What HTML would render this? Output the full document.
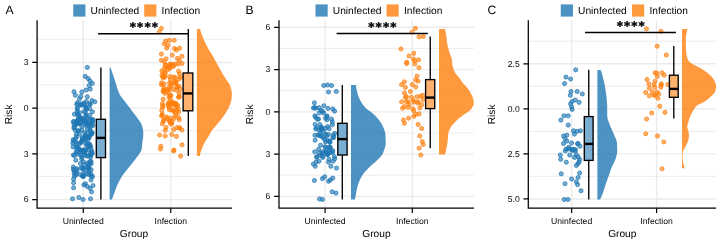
<!DOCTYPE html>
<html lang="en"><head><meta charset="utf-8"><title>Risk by Group</title>
<style>html,body{margin:0;padding:0;background:#fff}body{width:720px;height:243px;overflow:hidden}svg{display:block}</style>
</head><body>
<svg width="720" height="243" viewBox="0 0 720 243" text-rendering="geometricPrecision" font-family="'Liberation Sans', Arial, Helvetica, sans-serif">
<rect width="720" height="243" fill="#ffffff"/>
<g id="panelA">
<path d="M37.10 176.43H231.90M37.10 130.71H231.90M37.10 84.99H231.90M37.10 39.27H231.90" stroke="#ebebeb" stroke-width="0.9" fill="none"/>
<path d="M37.10 199.59H231.90M37.10 153.87H231.90M37.10 108.15H231.90M37.10 62.43H231.90M83.25 20.3V208.2M170.75 20.3V208.2" stroke="#ebebeb" stroke-width="1.4" fill="none"/>
<path d="M109.60 67.60L110.5 67.6L110.9 68.6L111.2 69.6L111.5 70.6L111.9 71.6L112.2 72.6L112.6 73.6L112.9 74.6L113.3 75.6L113.6 76.6L113.9 77.6L114.3 78.6L114.6 79.6L114.9 80.6L115.2 81.6L115.6 82.6L115.9 83.6L116.2 84.6L116.5 85.6L116.7 86.6L117.0 87.6L117.4 88.6L117.7 89.6L118.1 90.6L118.4 91.6L118.8 92.6L119.3 93.6L119.8 94.6L120.3 95.6L121.0 96.6L121.7 97.6L122.5 98.6L123.3 99.6L124.1 100.6L124.9 101.6L125.7 102.6L126.4 103.6L127.2 104.6L127.9 105.6L128.7 106.6L129.4 107.6L130.2 108.6L130.9 109.6L131.7 110.6L132.5 111.6L133.2 112.6L134.0 113.6L134.8 114.6L135.5 115.6L136.3 116.6L137.0 117.6L137.7 118.6L138.4 119.6L139.2 120.6L139.9 121.6L140.5 122.6L141.1 123.6L141.5 124.6L141.9 125.6L142.2 126.6L142.5 127.6L142.8 128.6L142.9 129.6L143.1 130.6L143.2 131.6L143.3 132.6L143.3 133.6L143.3 134.6L143.2 135.6L143.2 136.6L143.1 137.6L142.9 138.6L142.8 139.6L142.7 140.6L142.5 141.6L142.4 142.6L142.3 143.6L142.2 144.6L142.1 145.6L142.0 146.6L141.9 147.6L141.8 148.6L141.6 149.6L141.2 150.6L140.8 151.6L140.2 152.6L139.5 153.6L138.8 154.6L138.1 155.6L137.3 156.6L136.6 157.6L135.9 158.6L135.1 159.6L134.4 160.6L133.6 161.6L132.8 162.6L132.0 163.6L131.2 164.6L130.3 165.6L129.5 166.6L128.8 167.6L128.0 168.6L127.2 169.6L126.4 170.6L125.6 171.6L124.8 172.6L124.0 173.6L123.3 174.6L122.6 175.6L121.9 176.6L121.3 177.6L120.7 178.6L120.2 179.6L119.6 180.6L119.1 181.6L118.6 182.6L118.1 183.6L117.6 184.6L117.2 185.6L116.8 186.6L116.3 187.6L116.0 188.6L115.6 189.6L115.2 190.6L114.9 191.6L114.5 192.6L114.1 193.6L113.8 194.6L113.4 195.6L113.0 196.6L112.7 197.6L112.3 198.6L112.0 199.5L109.60 199.50Z" fill="#1F77B4" fill-opacity="0.8"/>
<path d="M196.90 29.00L200.0 29.0L200.3 30.0L200.5 31.0L200.9 32.0L201.2 33.0L201.5 34.0L201.9 35.0L202.3 36.0L202.7 37.0L203.1 38.0L203.5 39.0L204.0 40.0L204.4 41.0L204.9 42.0L205.4 43.0L205.9 44.0L206.4 45.0L206.9 46.0L207.4 47.0L207.9 48.0L208.5 49.0L209.0 50.0L209.6 51.0L210.2 52.0L210.9 53.0L211.6 54.0L212.2 55.0L212.8 56.0L213.4 57.0L213.9 58.0L214.4 59.0L214.9 60.0L215.5 61.0L216.0 62.0L216.6 63.0L217.1 64.0L217.7 65.0L218.2 66.0L218.8 67.0L219.3 68.0L219.9 69.0L220.5 70.0L221.1 71.0L221.6 72.0L222.2 73.0L222.8 74.0L223.4 75.0L224.0 76.0L224.6 77.0L225.2 78.0L225.9 79.0L226.5 80.0L227.2 81.0L228.0 82.0L228.7 83.0L229.3 84.0L229.7 85.0L230.2 86.0L230.6 87.0L230.9 88.0L231.2 89.0L231.4 90.0L231.6 91.0L231.7 92.0L231.8 93.0L231.9 94.0L231.9 95.0L231.8 96.0L231.7 97.0L231.6 98.0L231.5 99.0L231.3 100.0L231.2 101.0L230.9 102.0L230.6 103.0L230.2 104.0L229.8 105.0L229.4 106.0L229.0 107.0L228.5 108.0L228.0 109.0L227.5 110.0L226.9 111.0L226.3 112.0L225.7 113.0L225.1 114.0L224.4 115.0L223.7 116.0L222.9 117.0L222.2 118.0L221.4 119.0L220.6 120.0L219.9 121.0L219.0 122.0L218.2 123.0L217.4 124.0L216.6 125.0L215.7 126.0L214.9 127.0L214.0 128.0L213.1 129.0L212.3 130.0L211.6 131.0L211.0 132.0L210.4 133.0L209.9 134.0L209.4 135.0L208.8 136.0L208.2 137.0L207.5 138.0L206.8 139.0L206.1 140.0L205.6 141.0L205.0 142.0L204.5 143.0L204.0 144.0L203.5 145.0L203.0 146.0L202.6 147.0L202.2 148.0L201.8 149.0L201.4 150.0L201.0 151.0L200.7 152.0L200.4 153.0L200.2 154.0L200.0 155.0L199.8 155.9L196.90 155.90Z" fill="#FF7F0E" fill-opacity="0.8"/>
<g fill="#1F77B4" fill-opacity="0.62" stroke="#1F77B4" stroke-opacity="0.88" stroke-width="0.85">
<circle cx="87.3" cy="67.4" r="2.05"/><circle cx="85.2" cy="76.4" r="2.05"/><circle cx="88.2" cy="78.6" r="2.05"/><circle cx="90.0" cy="81.0" r="2.05"/><circle cx="92.3" cy="83.4" r="2.05"/><circle cx="89.1" cy="85.6" r="2.05"/><circle cx="90.2" cy="89.1" r="2.05"/><circle cx="86.1" cy="90.0" r="2.05"/><circle cx="81.8" cy="91.9" r="2.05"/><circle cx="74.0" cy="91.7" r="2.05"/><circle cx="75.3" cy="95.2" r="2.05"/><circle cx="80.8" cy="96.4" r="2.05"/><circle cx="87.3" cy="96.8" r="2.05"/><circle cx="79.3" cy="99.0" r="2.05"/><circle cx="92.0" cy="100.5" r="2.05"/><circle cx="94.8" cy="101.8" r="2.05"/><circle cx="77.4" cy="102.8" r="2.05"/><circle cx="86.4" cy="101.5" r="2.05"/><circle cx="81.7" cy="105.2" r="2.05"/><circle cx="90.1" cy="104.6" r="2.05"/><circle cx="73.6" cy="179.0" r="2.05"/><circle cx="73.6" cy="182.8" r="2.05"/><circle cx="73.6" cy="187.8" r="2.05"/><circle cx="85.5" cy="183.7" r="2.05"/><circle cx="91.0" cy="180.0" r="2.05"/><circle cx="93.0" cy="185.6" r="2.05"/><circle cx="87.3" cy="186.5" r="2.05"/><circle cx="90.0" cy="188.4" r="2.05"/><circle cx="91.6" cy="191.8" r="2.05"/><circle cx="76.0" cy="175.0" r="2.05"/><circle cx="83.8" cy="185.0" r="2.05"/><circle cx="72.5" cy="198.8" r="2.05"/><circle cx="78.8" cy="197.5" r="2.05"/><circle cx="83.0" cy="199.5" r="2.05"/><circle cx="90.5" cy="198.8" r="2.05"/><circle cx="85.7" cy="107.1" r="2.05"/><circle cx="84.2" cy="111.3" r="2.05"/><circle cx="86.2" cy="107.6" r="2.05"/><circle cx="84.9" cy="104.7" r="2.05"/><circle cx="89.6" cy="108.7" r="2.05"/><circle cx="81.5" cy="103.8" r="2.05"/><circle cx="89.9" cy="103.8" r="2.05"/><circle cx="77.2" cy="109.2" r="2.05"/><circle cx="92.4" cy="111.8" r="2.05"/><circle cx="86.7" cy="108.9" r="2.05"/><circle cx="76.7" cy="104.4" r="2.05"/><circle cx="77.5" cy="107.8" r="2.05"/><circle cx="80.5" cy="104.7" r="2.05"/><circle cx="84.2" cy="103.3" r="2.05"/><circle cx="89.8" cy="115.3" r="2.05"/><circle cx="85.8" cy="115.9" r="2.05"/><circle cx="86.2" cy="115.7" r="2.05"/><circle cx="78.6" cy="115.4" r="2.05"/><circle cx="92.9" cy="119.5" r="2.05"/><circle cx="87.2" cy="118.3" r="2.05"/><circle cx="77.6" cy="114.4" r="2.05"/><circle cx="74.4" cy="114.2" r="2.05"/><circle cx="81.0" cy="117.7" r="2.05"/><circle cx="80.7" cy="118.3" r="2.05"/><circle cx="89.9" cy="119.2" r="2.05"/><circle cx="77.2" cy="112.0" r="2.05"/><circle cx="82.4" cy="118.8" r="2.05"/><circle cx="80.9" cy="119.4" r="2.05"/><circle cx="85.6" cy="112.5" r="2.05"/><circle cx="78.4" cy="117.8" r="2.05"/><circle cx="79.7" cy="112.7" r="2.05"/><circle cx="88.1" cy="137.6" r="2.05"/><circle cx="77.6" cy="121.7" r="2.05"/><circle cx="73.8" cy="121.4" r="2.05"/><circle cx="76.2" cy="134.5" r="2.05"/><circle cx="81.7" cy="130.0" r="2.05"/><circle cx="87.5" cy="123.1" r="2.05"/><circle cx="85.7" cy="122.0" r="2.05"/><circle cx="81.2" cy="121.7" r="2.05"/><circle cx="78.1" cy="123.5" r="2.05"/><circle cx="89.0" cy="137.8" r="2.05"/><circle cx="90.7" cy="125.2" r="2.05"/><circle cx="80.6" cy="123.5" r="2.05"/><circle cx="85.7" cy="135.6" r="2.05"/><circle cx="92.8" cy="121.4" r="2.05"/><circle cx="77.9" cy="123.5" r="2.05"/><circle cx="79.3" cy="134.0" r="2.05"/><circle cx="74.1" cy="125.1" r="2.05"/><circle cx="84.5" cy="121.2" r="2.05"/><circle cx="84.9" cy="124.1" r="2.05"/><circle cx="81.8" cy="126.5" r="2.05"/><circle cx="82.5" cy="137.5" r="2.05"/><circle cx="90.3" cy="130.3" r="2.05"/><circle cx="75.7" cy="122.9" r="2.05"/><circle cx="89.3" cy="136.6" r="2.05"/><circle cx="76.5" cy="124.2" r="2.05"/><circle cx="91.8" cy="133.4" r="2.05"/><circle cx="92.0" cy="123.2" r="2.05"/><circle cx="84.9" cy="136.1" r="2.05"/><circle cx="74.7" cy="127.4" r="2.05"/><circle cx="92.2" cy="120.2" r="2.05"/><circle cx="87.0" cy="124.0" r="2.05"/><circle cx="89.4" cy="124.3" r="2.05"/><circle cx="78.6" cy="130.7" r="2.05"/><circle cx="87.3" cy="122.8" r="2.05"/><circle cx="77.3" cy="120.8" r="2.05"/><circle cx="90.0" cy="130.0" r="2.05"/><circle cx="78.3" cy="131.0" r="2.05"/><circle cx="76.8" cy="136.7" r="2.05"/><circle cx="78.1" cy="119.8" r="2.05"/><circle cx="73.8" cy="127.9" r="2.05"/><circle cx="80.1" cy="122.8" r="2.05"/><circle cx="75.3" cy="130.3" r="2.05"/><circle cx="90.8" cy="126.3" r="2.05"/><circle cx="86.0" cy="137.9" r="2.05"/><circle cx="84.5" cy="132.5" r="2.05"/><circle cx="73.3" cy="122.1" r="2.05"/><circle cx="91.2" cy="119.8" r="2.05"/><circle cx="92.2" cy="132.7" r="2.05"/><circle cx="85.6" cy="119.9" r="2.05"/><circle cx="87.5" cy="128.6" r="2.05"/><circle cx="93.0" cy="125.5" r="2.05"/><circle cx="83.7" cy="120.9" r="2.05"/><circle cx="91.0" cy="133.4" r="2.05"/><circle cx="87.0" cy="133.4" r="2.05"/><circle cx="91.3" cy="134.4" r="2.05"/><circle cx="86.6" cy="126.1" r="2.05"/><circle cx="90.4" cy="155.5" r="2.05"/><circle cx="88.7" cy="146.3" r="2.05"/><circle cx="84.3" cy="154.8" r="2.05"/><circle cx="80.4" cy="150.2" r="2.05"/><circle cx="85.0" cy="149.4" r="2.05"/><circle cx="85.6" cy="139.8" r="2.05"/><circle cx="90.5" cy="157.3" r="2.05"/><circle cx="80.5" cy="152.2" r="2.05"/><circle cx="84.5" cy="152.3" r="2.05"/><circle cx="89.7" cy="146.7" r="2.05"/><circle cx="87.9" cy="139.9" r="2.05"/><circle cx="84.9" cy="138.9" r="2.05"/><circle cx="77.3" cy="147.5" r="2.05"/><circle cx="82.7" cy="151.6" r="2.05"/><circle cx="91.4" cy="150.0" r="2.05"/><circle cx="72.8" cy="143.2" r="2.05"/><circle cx="86.4" cy="144.0" r="2.05"/><circle cx="76.1" cy="142.2" r="2.05"/><circle cx="86.1" cy="155.6" r="2.05"/><circle cx="90.8" cy="146.7" r="2.05"/><circle cx="86.2" cy="144.5" r="2.05"/><circle cx="81.4" cy="142.1" r="2.05"/><circle cx="91.3" cy="153.7" r="2.05"/><circle cx="80.4" cy="155.1" r="2.05"/><circle cx="79.1" cy="149.4" r="2.05"/><circle cx="82.7" cy="140.9" r="2.05"/><circle cx="89.9" cy="154.3" r="2.05"/><circle cx="92.0" cy="151.9" r="2.05"/><circle cx="76.1" cy="143.6" r="2.05"/><circle cx="78.2" cy="146.9" r="2.05"/><circle cx="81.0" cy="142.4" r="2.05"/><circle cx="82.7" cy="150.3" r="2.05"/><circle cx="89.7" cy="144.3" r="2.05"/><circle cx="81.8" cy="157.1" r="2.05"/><circle cx="73.2" cy="139.7" r="2.05"/><circle cx="73.4" cy="155.0" r="2.05"/><circle cx="84.2" cy="151.8" r="2.05"/><circle cx="88.7" cy="144.2" r="2.05"/><circle cx="75.4" cy="138.7" r="2.05"/><circle cx="73.1" cy="147.0" r="2.05"/><circle cx="77.4" cy="154.1" r="2.05"/><circle cx="73.6" cy="141.0" r="2.05"/><circle cx="81.7" cy="150.3" r="2.05"/><circle cx="86.0" cy="150.3" r="2.05"/><circle cx="92.2" cy="153.7" r="2.05"/><circle cx="76.7" cy="151.4" r="2.05"/><circle cx="76.2" cy="147.4" r="2.05"/><circle cx="82.2" cy="138.5" r="2.05"/><circle cx="76.3" cy="151.9" r="2.05"/><circle cx="79.7" cy="143.5" r="2.05"/><circle cx="83.2" cy="151.6" r="2.05"/><circle cx="88.0" cy="150.0" r="2.05"/><circle cx="88.8" cy="145.8" r="2.05"/><circle cx="74.4" cy="155.6" r="2.05"/><circle cx="87.3" cy="156.1" r="2.05"/><circle cx="81.9" cy="140.8" r="2.05"/><circle cx="91.2" cy="169.7" r="2.05"/><circle cx="84.3" cy="164.8" r="2.05"/><circle cx="88.9" cy="174.6" r="2.05"/><circle cx="82.2" cy="175.9" r="2.05"/><circle cx="76.9" cy="170.2" r="2.05"/><circle cx="89.3" cy="171.5" r="2.05"/><circle cx="87.3" cy="170.0" r="2.05"/><circle cx="91.0" cy="161.6" r="2.05"/><circle cx="92.5" cy="176.6" r="2.05"/><circle cx="88.8" cy="167.9" r="2.05"/><circle cx="91.2" cy="163.7" r="2.05"/><circle cx="79.8" cy="174.2" r="2.05"/><circle cx="81.7" cy="159.0" r="2.05"/><circle cx="88.3" cy="168.2" r="2.05"/><circle cx="73.4" cy="167.0" r="2.05"/><circle cx="74.1" cy="173.3" r="2.05"/><circle cx="76.3" cy="173.1" r="2.05"/><circle cx="88.7" cy="164.0" r="2.05"/><circle cx="75.8" cy="160.2" r="2.05"/><circle cx="87.4" cy="167.5" r="2.05"/><circle cx="86.7" cy="173.9" r="2.05"/><circle cx="82.8" cy="175.9" r="2.05"/><circle cx="74.5" cy="176.0" r="2.05"/><circle cx="83.4" cy="161.7" r="2.05"/><circle cx="87.5" cy="163.1" r="2.05"/><circle cx="83.4" cy="169.9" r="2.05"/><circle cx="84.1" cy="173.9" r="2.05"/><circle cx="80.5" cy="163.5" r="2.05"/><circle cx="91.0" cy="174.0" r="2.05"/><circle cx="90.0" cy="161.5" r="2.05"/><circle cx="83.4" cy="176.4" r="2.05"/><circle cx="76.9" cy="168.6" r="2.05"/><circle cx="83.0" cy="167.9" r="2.05"/><circle cx="73.4" cy="169.3" r="2.05"/><circle cx="83.2" cy="176.4" r="2.05"/><circle cx="89.0" cy="165.3" r="2.05"/><circle cx="82.7" cy="168.4" r="2.05"/><circle cx="74.1" cy="170.9" r="2.05"/><circle cx="81.2" cy="168.0" r="2.05"/><circle cx="91.5" cy="176.2" r="2.05"/>
</g>
<g fill="#FF7F0E" fill-opacity="0.62" stroke="#FF7F0E" stroke-opacity="0.88" stroke-width="0.85">
<circle cx="161.4" cy="28.4" r="2.05"/><circle cx="159.2" cy="31.8" r="2.05"/><circle cx="165.7" cy="41.0" r="2.05"/><circle cx="169.3" cy="40.3" r="2.05"/><circle cx="174.2" cy="40.3" r="2.05"/><circle cx="164.2" cy="43.8" r="2.05"/><circle cx="168.0" cy="45.3" r="2.05"/><circle cx="166.7" cy="48.1" r="2.05"/><circle cx="174.5" cy="48.5" r="2.05"/><circle cx="179.6" cy="48.1" r="2.05"/><circle cx="176.4" cy="50.0" r="2.05"/><circle cx="161.4" cy="54.1" r="2.05"/><circle cx="172.3" cy="55.1" r="2.05"/><circle cx="182.0" cy="56.2" r="2.05"/><circle cx="177.4" cy="58.4" r="2.05"/><circle cx="166.1" cy="58.8" r="2.05"/><circle cx="161.4" cy="60.3" r="2.05"/><circle cx="164.2" cy="61.6" r="2.05"/><circle cx="179.2" cy="60.3" r="2.05"/><circle cx="182.0" cy="63.5" r="2.05"/><circle cx="178.3" cy="64.0" r="2.05"/><circle cx="182.0" cy="130.0" r="2.05"/><circle cx="173.6" cy="129.5" r="2.05"/><circle cx="165.2" cy="130.4" r="2.05"/><circle cx="159.6" cy="135.0" r="2.05"/><circle cx="165.2" cy="136.0" r="2.05"/><circle cx="171.8" cy="134.5" r="2.05"/><circle cx="176.4" cy="136.4" r="2.05"/><circle cx="160.9" cy="146.3" r="2.05"/><circle cx="182.0" cy="144.8" r="2.05"/><circle cx="174.0" cy="150.0" r="2.05"/><circle cx="173.6" cy="150.9" r="2.05"/><circle cx="180.6" cy="156.1" r="2.05"/><circle cx="160.5" cy="149.0" r="2.05"/><circle cx="170.5" cy="65.7" r="2.05"/><circle cx="169.7" cy="64.3" r="2.05"/><circle cx="178.6" cy="71.2" r="2.05"/><circle cx="167.5" cy="67.8" r="2.05"/><circle cx="173.2" cy="64.9" r="2.05"/><circle cx="164.0" cy="72.3" r="2.05"/><circle cx="161.9" cy="70.8" r="2.05"/><circle cx="165.8" cy="64.9" r="2.05"/><circle cx="167.6" cy="69.9" r="2.05"/><circle cx="173.3" cy="66.6" r="2.05"/><circle cx="175.4" cy="64.0" r="2.05"/><circle cx="171.2" cy="64.2" r="2.05"/><circle cx="165.3" cy="65.5" r="2.05"/><circle cx="169.8" cy="68.3" r="2.05"/><circle cx="169.4" cy="66.8" r="2.05"/><circle cx="164.5" cy="68.3" r="2.05"/><circle cx="173.4" cy="77.0" r="2.05"/><circle cx="171.5" cy="85.4" r="2.05"/><circle cx="173.0" cy="89.5" r="2.05"/><circle cx="165.8" cy="89.6" r="2.05"/><circle cx="176.9" cy="87.4" r="2.05"/><circle cx="167.4" cy="90.5" r="2.05"/><circle cx="179.0" cy="79.1" r="2.05"/><circle cx="180.5" cy="77.2" r="2.05"/><circle cx="163.9" cy="90.2" r="2.05"/><circle cx="175.3" cy="77.6" r="2.05"/><circle cx="163.2" cy="78.0" r="2.05"/><circle cx="169.4" cy="89.1" r="2.05"/><circle cx="163.7" cy="88.3" r="2.05"/><circle cx="174.5" cy="80.8" r="2.05"/><circle cx="165.2" cy="73.3" r="2.05"/><circle cx="178.8" cy="86.2" r="2.05"/><circle cx="163.5" cy="91.8" r="2.05"/><circle cx="175.9" cy="82.8" r="2.05"/><circle cx="174.5" cy="82.8" r="2.05"/><circle cx="162.7" cy="76.7" r="2.05"/><circle cx="162.0" cy="75.1" r="2.05"/><circle cx="171.2" cy="83.7" r="2.05"/><circle cx="164.1" cy="84.0" r="2.05"/><circle cx="165.2" cy="76.6" r="2.05"/><circle cx="180.3" cy="89.3" r="2.05"/><circle cx="163.1" cy="91.0" r="2.05"/><circle cx="179.6" cy="74.2" r="2.05"/><circle cx="176.0" cy="82.0" r="2.05"/><circle cx="170.3" cy="79.3" r="2.05"/><circle cx="169.6" cy="83.0" r="2.05"/><circle cx="161.6" cy="84.7" r="2.05"/><circle cx="177.5" cy="86.6" r="2.05"/><circle cx="170.0" cy="76.5" r="2.05"/><circle cx="169.1" cy="87.3" r="2.05"/><circle cx="164.5" cy="76.8" r="2.05"/><circle cx="161.6" cy="82.9" r="2.05"/><circle cx="176.7" cy="90.3" r="2.05"/><circle cx="177.8" cy="105.4" r="2.05"/><circle cx="169.1" cy="104.0" r="2.05"/><circle cx="171.0" cy="103.4" r="2.05"/><circle cx="176.8" cy="110.5" r="2.05"/><circle cx="178.8" cy="97.2" r="2.05"/><circle cx="176.2" cy="106.1" r="2.05"/><circle cx="169.1" cy="107.4" r="2.05"/><circle cx="178.2" cy="108.9" r="2.05"/><circle cx="176.0" cy="105.2" r="2.05"/><circle cx="169.1" cy="106.5" r="2.05"/><circle cx="162.7" cy="105.7" r="2.05"/><circle cx="170.3" cy="98.7" r="2.05"/><circle cx="168.1" cy="92.6" r="2.05"/><circle cx="173.3" cy="104.2" r="2.05"/><circle cx="179.4" cy="96.7" r="2.05"/><circle cx="167.8" cy="104.7" r="2.05"/><circle cx="172.2" cy="104.5" r="2.05"/><circle cx="168.8" cy="102.2" r="2.05"/><circle cx="173.6" cy="110.8" r="2.05"/><circle cx="175.9" cy="105.3" r="2.05"/><circle cx="161.7" cy="110.4" r="2.05"/><circle cx="175.5" cy="103.7" r="2.05"/><circle cx="169.0" cy="97.1" r="2.05"/><circle cx="165.1" cy="93.3" r="2.05"/><circle cx="163.2" cy="99.3" r="2.05"/><circle cx="178.7" cy="97.0" r="2.05"/><circle cx="171.1" cy="102.5" r="2.05"/><circle cx="172.2" cy="110.2" r="2.05"/><circle cx="173.5" cy="110.7" r="2.05"/><circle cx="162.8" cy="107.3" r="2.05"/><circle cx="175.9" cy="103.4" r="2.05"/><circle cx="179.2" cy="93.2" r="2.05"/><circle cx="170.4" cy="95.3" r="2.05"/><circle cx="170.8" cy="95.5" r="2.05"/><circle cx="162.4" cy="103.6" r="2.05"/><circle cx="169.4" cy="109.8" r="2.05"/><circle cx="172.8" cy="102.1" r="2.05"/><circle cx="166.8" cy="117.1" r="2.05"/><circle cx="172.1" cy="122.1" r="2.05"/><circle cx="175.1" cy="115.7" r="2.05"/><circle cx="161.6" cy="115.9" r="2.05"/><circle cx="162.1" cy="115.0" r="2.05"/><circle cx="175.8" cy="113.5" r="2.05"/><circle cx="178.5" cy="117.5" r="2.05"/><circle cx="162.3" cy="123.7" r="2.05"/><circle cx="179.4" cy="127.8" r="2.05"/><circle cx="178.7" cy="112.1" r="2.05"/><circle cx="170.5" cy="118.2" r="2.05"/><circle cx="166.0" cy="127.5" r="2.05"/><circle cx="179.3" cy="119.8" r="2.05"/><circle cx="170.3" cy="123.2" r="2.05"/><circle cx="177.0" cy="127.6" r="2.05"/><circle cx="163.5" cy="121.2" r="2.05"/><circle cx="170.0" cy="121.5" r="2.05"/><circle cx="162.3" cy="114.3" r="2.05"/><circle cx="163.7" cy="119.9" r="2.05"/><circle cx="174.1" cy="118.4" r="2.05"/><circle cx="166.3" cy="118.6" r="2.05"/><circle cx="169.4" cy="120.8" r="2.05"/><circle cx="171.5" cy="124.2" r="2.05"/><circle cx="179.6" cy="128.0" r="2.05"/>
</g>
<path d="M100.90 67.60V119.30M100.90 157.60V199.50" stroke="#000" stroke-width="1.35" fill="none"/>
<rect x="96.30" y="119.30" width="9.20" height="38.30" fill="#fff"/>
<rect x="96.30" y="119.30" width="9.20" height="38.30" fill="#1F77B4" fill-opacity="0.6" stroke="#000" stroke-width="1.35"/>
<path d="M96.30 137.90H105.50" stroke="#000" stroke-width="2.4"/>
<path d="M188.30 29.00V73.00M188.30 110.80V155.90" stroke="#000" stroke-width="1.35" fill="none"/>
<rect x="183.10" y="73.00" width="9.70" height="37.80" fill="#fff"/>
<rect x="183.10" y="73.00" width="9.70" height="37.80" fill="#FF7F0E" fill-opacity="0.6" stroke="#000" stroke-width="1.35"/>
<path d="M183.10 93.40H192.80" stroke="#000" stroke-width="2.4"/>
<path d="M98.10 33.80H189.00" stroke="#000" stroke-width="1.5"/>
<text x="144.40" y="31.05" font-family="'DejaVu Sans', sans-serif" font-weight="bold" font-size="11.8" letter-spacing="1.15" text-anchor="middle" fill="#000" stroke="#000" stroke-width="0.4">****</text>
<path d="M37.10 20.3V208.80M36.50 208.2H231.90" stroke="#000" stroke-width="1.25" fill="none"/>
<path d="M32.20 62.43H37.10M32.20 108.15H37.10M32.20 153.87H37.10M32.20 199.59H37.10M83.25 208.2V212.90M170.75 208.2V212.90" stroke="#000" stroke-width="1.2" fill="none"/>
<text x="28.50" y="65.28" font-size="8.6" text-anchor="end" fill="#000">3</text>
<text x="28.50" y="111.00" font-size="8.6" text-anchor="end" fill="#000">0</text>
<text x="28.50" y="156.72" font-size="8.6" text-anchor="end" fill="#000">3</text>
<text x="28.50" y="202.44" font-size="8.6" text-anchor="end" fill="#000">6</text>
<text x="83.25" y="224.3" font-size="8.6" text-anchor="middle" fill="#000">Uninfected</text>
<text x="170.75" y="224.3" font-size="8.6" text-anchor="middle" fill="#000">Infection</text>
<text x="134.00" y="236.7" font-size="10.2" text-anchor="middle" fill="#000">Group</text>
<text transform="translate(12.20 114.4) rotate(-90)" font-size="10.2" text-anchor="middle" fill="#000">Risk</text>
<text x="5.50" y="13.9" font-size="12.1" fill="#000">A</text>
<rect x="73.25" y="4.4" width="12.2" height="12.2" fill="#1F77B4" fill-opacity="0.8"/>
<text x="90.55" y="14.05" font-size="10.2" fill="#000">Uninfected</text>
<rect x="144.20" y="4.4" width="12.2" height="12.2" fill="#FF7F0E" fill-opacity="0.8"/>
<text x="161.60" y="14.05" font-size="10.2" fill="#000">Infection</text>
</g>
<g id="panelB">
<path d="M279.00 175.25H473.90M279.00 132.98H473.90M279.00 90.72H473.90M279.00 48.44H473.90" stroke="#ebebeb" stroke-width="0.9" fill="none"/>
<path d="M279.00 196.39H473.90M279.00 154.12H473.90M279.00 111.85H473.90M279.00 69.58H473.90M279.00 27.31H473.90M325.10 20.3V208.2M412.30 20.3V208.2" stroke="#ebebeb" stroke-width="1.4" fill="none"/>
<path d="M351.00 85.10L356.0 85.1L356.1 86.1L356.2 87.1L356.3 88.1L356.5 89.1L356.7 90.1L356.9 91.1L357.2 92.1L357.4 93.1L357.7 94.1L358.0 95.1L358.3 96.1L358.7 97.1L359.1 98.1L359.6 99.1L360.1 100.1L360.6 101.1L361.2 102.1L361.8 103.1L362.5 104.1L363.2 105.1L364.0 106.1L364.8 107.1L365.8 108.1L366.9 109.1L368.2 110.1L369.5 111.1L370.9 112.1L372.2 113.1L373.4 114.1L374.5 115.1L375.5 116.1L376.4 117.1L377.3 118.1L378.1 119.1L378.9 120.1L379.7 121.1L380.4 122.1L381.1 123.1L381.6 124.1L382.1 125.1L382.6 126.1L383.1 127.1L383.6 128.1L384.0 129.1L384.4 130.1L384.7 131.1L385.0 132.1L385.2 133.1L385.3 134.1L385.4 135.1L385.4 136.1L385.5 137.1L385.6 138.1L385.6 139.1L385.6 140.1L385.7 141.1L385.7 142.1L385.7 143.1L385.7 144.1L385.6 145.1L385.4 146.1L385.1 147.1L384.8 148.1L384.4 149.1L384.1 150.1L383.8 151.1L383.4 152.1L383.0 153.1L382.6 154.1L382.0 155.1L381.3 156.1L380.4 157.1L379.4 158.1L378.4 159.1L377.4 160.1L376.4 161.1L375.3 162.1L374.1 163.1L372.9 164.1L371.7 165.1L370.6 166.1L369.5 167.1L368.5 168.1L367.6 169.1L366.7 170.1L365.7 171.1L364.9 172.1L364.0 173.1L363.3 174.1L362.5 175.1L361.9 176.1L361.3 177.1L360.8 178.1L360.3 179.1L359.8 180.1L359.4 181.1L359.0 182.1L358.6 183.1L358.2 184.1L357.9 185.1L357.6 186.1L357.3 187.1L357.1 188.1L356.9 189.1L356.7 190.1L356.5 191.1L356.3 192.1L356.2 193.1L356.0 194.1L355.8 195.1L355.6 196.1L355.4 197.1L355.2 198.1L355.1 199.1L355.0 199.5L351.00 199.50Z" fill="#1F77B4" fill-opacity="0.8"/>
<path d="M439.00 29.00L445.0 29.0L445.2 30.0L445.4 31.0L445.6 32.0L445.8 33.0L446.0 34.0L446.1 35.0L446.3 36.0L446.4 37.0L446.6 38.0L446.7 39.0L446.8 40.0L446.9 41.0L447.0 42.0L447.1 43.0L447.3 44.0L447.5 45.0L447.7 46.0L447.9 47.0L448.2 48.0L448.5 49.0L448.8 50.0L449.0 51.0L449.3 52.0L449.6 53.0L450.0 54.0L450.3 55.0L450.7 56.0L451.1 57.0L451.6 58.0L451.9 59.0L452.0 60.0L452.1 61.0L452.2 62.0L452.2 63.0L452.3 64.0L452.4 65.0L452.6 66.0L452.8 67.0L453.1 68.0L453.4 69.0L453.8 70.0L454.3 71.0L454.7 72.0L455.3 73.0L456.1 74.0L456.9 75.0L457.8 76.0L458.6 77.0L459.4 78.0L460.1 79.0L460.7 80.0L461.4 81.0L462.1 82.0L462.8 83.0L463.7 84.0L464.7 85.0L465.7 86.0L466.6 87.0L467.4 88.0L468.1 89.0L468.8 90.0L469.5 91.0L470.1 92.0L470.6 93.0L471.2 94.0L471.7 95.0L472.1 96.0L472.6 97.0L473.0 98.0L473.3 99.0L473.4 100.0L473.6 101.0L473.7 102.0L473.7 103.0L473.7 104.0L473.5 105.0L473.1 106.0L472.5 107.0L471.9 108.0L471.2 109.0L470.4 110.0L469.2 111.0L467.8 112.0L466.2 113.0L464.7 114.0L463.3 115.0L462.1 116.0L460.8 117.0L459.5 118.0L458.3 119.0L457.2 120.0L456.1 121.0L455.1 122.0L454.2 123.0L453.2 124.0L452.4 125.0L451.6 126.0L450.9 127.0L450.4 128.0L449.9 129.0L449.4 130.0L449.0 131.0L448.6 132.0L448.4 133.0L448.2 134.0L448.1 135.0L448.0 136.0L448.0 137.0L447.9 138.0L447.9 139.0L447.8 140.0L447.7 141.0L447.6 142.0L447.4 143.0L447.3 144.0L447.1 145.0L446.9 146.0L446.7 147.0L446.5 148.0L446.3 149.0L446.1 150.0L445.9 151.0L445.6 152.0L445.4 153.0L445.2 154.0L445.0 154.6L439.00 154.60Z" fill="#FF7F0E" fill-opacity="0.8"/>
<g fill="#1F77B4" fill-opacity="0.62" stroke="#1F77B4" stroke-opacity="0.88" stroke-width="0.85">
<circle cx="323.8" cy="85.5" r="2.05"/><circle cx="327.5" cy="85.0" r="2.05"/><circle cx="331.6" cy="85.5" r="2.05"/><circle cx="328.5" cy="92.0" r="2.05"/><circle cx="336.3" cy="91.5" r="2.05"/><circle cx="314.4" cy="102.8" r="2.05"/><circle cx="323.8" cy="105.8" r="2.05"/><circle cx="319.0" cy="107.6" r="2.05"/><circle cx="313.4" cy="108.0" r="2.05"/><circle cx="313.4" cy="164.0" r="2.05"/><circle cx="315.3" cy="166.3" r="2.05"/><circle cx="319.0" cy="161.2" r="2.05"/><circle cx="322.8" cy="157.4" r="2.05"/><circle cx="328.5" cy="162.1" r="2.05"/><circle cx="330.9" cy="166.3" r="2.05"/><circle cx="333.1" cy="161.2" r="2.05"/><circle cx="336.5" cy="168.1" r="2.05"/><circle cx="329.0" cy="159.3" r="2.05"/><circle cx="316.3" cy="161.8" r="2.05"/><circle cx="314.4" cy="180.5" r="2.05"/><circle cx="322.4" cy="178.6" r="2.05"/><circle cx="324.7" cy="176.8" r="2.05"/><circle cx="328.5" cy="181.3" r="2.05"/><circle cx="330.3" cy="180.0" r="2.05"/><circle cx="332.8" cy="178.1" r="2.05"/><circle cx="332.2" cy="191.8" r="2.05"/><circle cx="336.0" cy="193.1" r="2.05"/><circle cx="319.5" cy="199.0" r="2.05"/><circle cx="322.5" cy="199.5" r="2.05"/><circle cx="318.5" cy="119.0" r="2.05"/><circle cx="332.7" cy="108.9" r="2.05"/><circle cx="326.9" cy="119.8" r="2.05"/><circle cx="319.2" cy="112.9" r="2.05"/><circle cx="325.6" cy="118.2" r="2.05"/><circle cx="327.0" cy="116.6" r="2.05"/><circle cx="317.4" cy="119.3" r="2.05"/><circle cx="334.6" cy="111.1" r="2.05"/><circle cx="332.4" cy="121.9" r="2.05"/><circle cx="314.6" cy="107.6" r="2.05"/><circle cx="322.5" cy="111.4" r="2.05"/><circle cx="315.5" cy="117.2" r="2.05"/><circle cx="314.9" cy="115.8" r="2.05"/><circle cx="328.0" cy="108.4" r="2.05"/><circle cx="327.0" cy="116.0" r="2.05"/><circle cx="323.7" cy="113.1" r="2.05"/><circle cx="320.8" cy="110.4" r="2.05"/><circle cx="331.5" cy="119.1" r="2.05"/><circle cx="315.9" cy="108.2" r="2.05"/><circle cx="326.8" cy="135.8" r="2.05"/><circle cx="317.9" cy="135.2" r="2.05"/><circle cx="318.9" cy="129.9" r="2.05"/><circle cx="321.3" cy="135.9" r="2.05"/><circle cx="334.8" cy="133.4" r="2.05"/><circle cx="325.2" cy="128.3" r="2.05"/><circle cx="333.3" cy="134.9" r="2.05"/><circle cx="321.3" cy="129.9" r="2.05"/><circle cx="332.3" cy="124.8" r="2.05"/><circle cx="315.1" cy="124.5" r="2.05"/><circle cx="323.8" cy="132.0" r="2.05"/><circle cx="319.8" cy="133.9" r="2.05"/><circle cx="315.0" cy="135.3" r="2.05"/><circle cx="327.7" cy="126.6" r="2.05"/><circle cx="319.9" cy="124.6" r="2.05"/><circle cx="328.4" cy="134.5" r="2.05"/><circle cx="316.4" cy="127.7" r="2.05"/><circle cx="329.1" cy="128.8" r="2.05"/><circle cx="315.8" cy="129.0" r="2.05"/><circle cx="325.7" cy="134.3" r="2.05"/><circle cx="333.7" cy="137.5" r="2.05"/><circle cx="322.8" cy="137.5" r="2.05"/><circle cx="319.9" cy="135.7" r="2.05"/><circle cx="322.0" cy="128.2" r="2.05"/><circle cx="332.7" cy="137.8" r="2.05"/><circle cx="321.1" cy="127.1" r="2.05"/><circle cx="321.2" cy="129.0" r="2.05"/><circle cx="321.7" cy="129.4" r="2.05"/><circle cx="325.5" cy="142.0" r="2.05"/><circle cx="325.0" cy="151.7" r="2.05"/><circle cx="325.5" cy="152.3" r="2.05"/><circle cx="329.8" cy="141.7" r="2.05"/><circle cx="319.4" cy="153.1" r="2.05"/><circle cx="324.5" cy="139.2" r="2.05"/><circle cx="325.6" cy="147.6" r="2.05"/><circle cx="327.4" cy="154.5" r="2.05"/><circle cx="314.7" cy="151.8" r="2.05"/><circle cx="330.4" cy="147.7" r="2.05"/><circle cx="315.1" cy="140.2" r="2.05"/><circle cx="332.8" cy="150.7" r="2.05"/><circle cx="327.1" cy="140.2" r="2.05"/><circle cx="329.5" cy="141.1" r="2.05"/><circle cx="318.6" cy="149.3" r="2.05"/><circle cx="329.9" cy="142.4" r="2.05"/><circle cx="329.9" cy="147.2" r="2.05"/><circle cx="320.6" cy="145.2" r="2.05"/><circle cx="327.9" cy="154.5" r="2.05"/><circle cx="325.0" cy="146.8" r="2.05"/><circle cx="328.7" cy="150.5" r="2.05"/><circle cx="322.2" cy="153.6" r="2.05"/><circle cx="327.8" cy="152.2" r="2.05"/><circle cx="330.8" cy="152.6" r="2.05"/><circle cx="332.6" cy="152.3" r="2.05"/><circle cx="327.2" cy="154.3" r="2.05"/><circle cx="328.7" cy="147.3" r="2.05"/><circle cx="322.4" cy="151.8" r="2.05"/><circle cx="316.5" cy="157.1" r="2.05"/><circle cx="334.8" cy="158.7" r="2.05"/><circle cx="316.9" cy="156.9" r="2.05"/><circle cx="322.5" cy="156.0" r="2.05"/><circle cx="334.3" cy="156.5" r="2.05"/><circle cx="320.0" cy="155.3" r="2.05"/>
</g>
<g fill="#FF7F0E" fill-opacity="0.62" stroke="#FF7F0E" stroke-opacity="0.88" stroke-width="0.85">
<circle cx="415.3" cy="28.4" r="2.05"/><circle cx="412.0" cy="32.2" r="2.05"/><circle cx="419.0" cy="36.9" r="2.05"/><circle cx="423.2" cy="36.5" r="2.05"/><circle cx="401.0" cy="49.0" r="2.05"/><circle cx="413.8" cy="53.4" r="2.05"/><circle cx="409.0" cy="56.0" r="2.05"/><circle cx="413.4" cy="59.0" r="2.05"/><circle cx="418.5" cy="59.8" r="2.05"/><circle cx="414.7" cy="61.0" r="2.05"/><circle cx="406.7" cy="62.2" r="2.05"/><circle cx="406.7" cy="63.5" r="2.05"/><circle cx="414.7" cy="64.0" r="2.05"/><circle cx="419.0" cy="67.7" r="2.05"/><circle cx="417.0" cy="76.1" r="2.05"/><circle cx="415.7" cy="79.9" r="2.05"/><circle cx="418.1" cy="81.2" r="2.05"/><circle cx="404.4" cy="81.8" r="2.05"/><circle cx="401.6" cy="84.6" r="2.05"/><circle cx="412.3" cy="84.6" r="2.05"/><circle cx="405.4" cy="87.4" r="2.05"/><circle cx="415.7" cy="87.0" r="2.05"/><circle cx="410.4" cy="91.5" r="2.05"/><circle cx="404.4" cy="93.0" r="2.05"/><circle cx="422.8" cy="95.3" r="2.05"/><circle cx="405.4" cy="97.3" r="2.05"/><circle cx="411.6" cy="97.3" r="2.05"/><circle cx="417.0" cy="96.8" r="2.05"/><circle cx="401.6" cy="101.8" r="2.05"/><circle cx="408.2" cy="101.8" r="2.05"/><circle cx="413.3" cy="100.5" r="2.05"/><circle cx="418.1" cy="101.8" r="2.05"/><circle cx="423.2" cy="99.6" r="2.05"/><circle cx="409.1" cy="104.7" r="2.05"/><circle cx="404.4" cy="106.5" r="2.05"/><circle cx="421.7" cy="104.7" r="2.05"/><circle cx="402.6" cy="108.3" r="2.05"/><circle cx="408.2" cy="107.5" r="2.05"/><circle cx="412.9" cy="108.8" r="2.05"/><circle cx="419.8" cy="107.9" r="2.05"/><circle cx="413.8" cy="110.7" r="2.05"/><circle cx="415.7" cy="114.4" r="2.05"/><circle cx="419.1" cy="113.9" r="2.05"/><circle cx="413.8" cy="116.3" r="2.05"/><circle cx="408.6" cy="118.2" r="2.05"/><circle cx="403.5" cy="120.1" r="2.05"/><circle cx="404.4" cy="123.3" r="2.05"/><circle cx="418.1" cy="124.4" r="2.05"/><circle cx="421.7" cy="128.5" r="2.05"/><circle cx="419.8" cy="136.0" r="2.05"/><circle cx="422.3" cy="141.6" r="2.05"/><circle cx="423.2" cy="144.5" r="2.05"/><circle cx="419.1" cy="148.2" r="2.05"/><circle cx="420.8" cy="155.0" r="2.05"/><circle cx="417.7" cy="102.9" r="2.05"/><circle cx="406.4" cy="101.5" r="2.05"/><circle cx="414.1" cy="102.2" r="2.05"/><circle cx="420.3" cy="96.2" r="2.05"/><circle cx="406.5" cy="96.7" r="2.05"/>
</g>
<path d="M342.30 84.90V123.30M342.30 155.00V199.50" stroke="#000" stroke-width="1.35" fill="none"/>
<rect x="337.80" y="123.30" width="9.30" height="31.70" fill="#fff"/>
<rect x="337.80" y="123.30" width="9.30" height="31.70" fill="#1F77B4" fill-opacity="0.6" stroke="#000" stroke-width="1.35"/>
<path d="M337.80 139.10H347.10" stroke="#000" stroke-width="2.4"/>
<path d="M430.25 36.40V79.60M430.25 108.60V148.30" stroke="#000" stroke-width="1.35" fill="none"/>
<rect x="425.60" y="79.60" width="9.15" height="29.00" fill="#fff"/>
<rect x="425.60" y="79.60" width="9.15" height="29.00" fill="#FF7F0E" fill-opacity="0.6" stroke="#000" stroke-width="1.35"/>
<path d="M425.60 97.60H434.75" stroke="#000" stroke-width="2.4"/>
<path d="M336.60 33.50H427.80" stroke="#000" stroke-width="1.5"/>
<text x="382.90" y="31.00" font-family="'DejaVu Sans', sans-serif" font-weight="bold" font-size="11.8" letter-spacing="1.15" text-anchor="middle" fill="#000" stroke="#000" stroke-width="0.4">****</text>
<path d="M279.00 20.3V208.80M278.40 208.2H473.90" stroke="#000" stroke-width="1.25" fill="none"/>
<path d="M274.10 27.31H279.00M274.10 69.58H279.00M274.10 111.85H279.00M274.10 154.12H279.00M274.10 196.39H279.00M325.10 208.2V212.90M412.30 208.2V212.90" stroke="#000" stroke-width="1.2" fill="none"/>
<text x="270.40" y="30.16" font-size="8.6" text-anchor="end" fill="#000">6</text>
<text x="270.40" y="72.43" font-size="8.6" text-anchor="end" fill="#000">3</text>
<text x="270.40" y="114.70" font-size="8.6" text-anchor="end" fill="#000">0</text>
<text x="270.40" y="156.97" font-size="8.6" text-anchor="end" fill="#000">3</text>
<text x="270.40" y="199.24" font-size="8.6" text-anchor="end" fill="#000">6</text>
<text x="325.10" y="224.3" font-size="8.6" text-anchor="middle" fill="#000">Uninfected</text>
<text x="412.30" y="224.3" font-size="8.6" text-anchor="middle" fill="#000">Infection</text>
<text x="376.40" y="236.7" font-size="10.2" text-anchor="middle" fill="#000">Group</text>
<text transform="translate(252.90 114.4) rotate(-90)" font-size="10.2" text-anchor="middle" fill="#000">Risk</text>
<text x="245.50" y="13.9" font-size="12.1" fill="#000">B</text>
<rect x="315.50" y="4.4" width="12.2" height="12.2" fill="#1F77B4" fill-opacity="0.8"/>
<text x="332.80" y="14.05" font-size="10.2" fill="#000">Uninfected</text>
<rect x="386.50" y="4.4" width="12.2" height="12.2" fill="#FF7F0E" fill-opacity="0.8"/>
<text x="403.90" y="14.05" font-size="10.2" fill="#000">Infection</text>
</g>
<g id="panelC">
<path d="M528.30 176.41H716.10M528.30 131.35H716.10M528.30 86.31H716.10M528.30 41.25H716.10" stroke="#ebebeb" stroke-width="0.9" fill="none"/>
<path d="M528.30 198.93H716.10M528.30 153.88H716.10M528.30 108.83H716.10M528.30 63.78H716.10M571.65 20.3V208.2M656.60 20.3V208.2" stroke="#ebebeb" stroke-width="1.4" fill="none"/>
<path d="M597.40 70.00L600.7 70.0L601.0 71.0L601.4 72.0L601.7 73.0L602.0 74.0L602.3 75.0L602.5 76.0L602.8 77.0L603.1 78.0L603.3 79.0L603.6 80.0L603.8 81.0L604.0 82.0L604.3 83.0L604.5 84.0L604.7 85.0L604.9 86.0L605.0 87.0L605.2 88.0L605.4 89.0L605.5 90.0L605.7 91.0L605.8 92.0L606.0 93.0L606.1 94.0L606.2 95.0L606.4 96.0L606.5 97.0L606.6 98.0L606.7 99.0L606.8 100.0L606.8 101.0L606.9 102.0L607.0 103.0L607.1 104.0L607.1 105.0L607.2 106.0L607.2 107.0L607.2 108.0L607.2 109.0L607.2 110.0L607.2 111.0L607.2 112.0L607.2 113.0L607.2 114.0L607.2 115.0L607.2 116.0L607.3 117.0L607.5 118.0L607.7 119.0L608.0 120.0L608.4 121.0L608.7 122.0L609.1 123.0L609.4 124.0L609.8 125.0L610.1 126.0L610.6 127.0L611.0 128.0L611.5 129.0L612.0 130.0L612.4 131.0L612.9 132.0L613.4 133.0L613.8 134.0L614.2 135.0L614.6 136.0L615.0 137.0L615.5 138.0L615.9 139.0L616.2 140.0L616.6 141.0L616.8 142.0L617.0 143.0L617.0 144.0L617.1 145.0L617.1 146.0L617.1 147.0L617.2 148.0L617.2 149.0L617.2 150.0L617.2 151.0L617.2 152.0L617.0 153.0L616.9 154.0L616.6 155.0L616.4 156.0L616.1 157.0L615.8 158.0L615.5 159.0L615.2 160.0L614.7 161.0L614.3 162.0L613.8 163.0L613.3 164.0L612.8 165.0L612.3 166.0L611.8 167.0L611.4 168.0L611.0 169.0L610.7 170.0L610.3 171.0L610.0 172.0L609.6 173.0L609.3 174.0L608.9 175.0L608.6 176.0L608.2 177.0L607.9 178.0L607.5 179.0L607.2 180.0L606.9 181.0L606.5 182.0L606.2 183.0L605.8 184.0L605.5 185.0L605.2 186.0L604.8 187.0L604.5 188.0L604.2 189.0L603.9 190.0L603.6 191.0L603.2 192.0L602.9 193.0L602.5 194.0L602.1 195.0L601.7 196.0L601.2 197.0L600.7 198.0L600.3 199.0L600.0 199.5L597.40 199.50Z" fill="#1F77B4" fill-opacity="0.8"/>
<path d="M682.00 28.90L687.5 28.9L687.2 29.9L687.0 30.9L686.8 31.9L686.6 32.9L686.4 33.9L686.2 34.9L686.0 35.9L685.9 36.9L685.8 37.9L685.8 38.9L685.8 39.9L685.8 40.9L685.8 41.9L685.8 42.9L685.9 43.9L685.9 44.9L685.9 45.9L686.0 46.9L686.0 47.9L686.0 48.9L686.1 49.9L686.2 50.9L686.2 51.9L686.3 52.9L686.4 53.9L686.6 54.9L686.8 55.9L687.0 56.9L687.3 57.9L687.7 58.9L688.2 59.9L688.8 60.9L689.6 61.9L690.9 62.9L692.5 63.9L694.2 64.9L696.2 65.9L698.3 66.9L700.2 67.9L701.9 68.9L703.4 69.9L704.9 70.9L706.3 71.9L707.6 72.9L708.8 73.9L710.0 74.9L711.0 75.9L711.9 76.9L712.7 77.9L713.4 78.9L714.1 79.9L714.5 80.9L715.0 81.9L715.4 82.9L715.7 83.9L716.0 84.9L716.1 85.9L716.1 86.9L716.0 87.9L715.8 88.9L715.5 89.9L715.3 90.9L714.9 91.9L714.4 92.9L713.5 93.9L712.5 94.9L711.4 95.9L710.3 96.9L709.2 97.9L708.1 98.9L706.8 99.9L705.4 100.9L704.0 101.9L702.1 102.9L699.8 103.9L697.7 104.9L696.4 105.9L695.5 106.9L694.7 107.9L694.1 108.9L693.5 109.9L692.9 110.9L692.3 111.9L691.8 112.9L691.3 113.9L690.8 114.9L690.3 115.9L689.9 116.9L689.6 117.9L689.2 118.9L688.9 119.9L688.6 120.9L688.4 121.9L688.1 122.9L687.8 123.9L687.5 124.9L687.3 125.9L687.2 126.9L687.3 127.9L687.7 128.9L688.1 129.9L688.3 130.9L688.5 131.9L688.7 132.9L688.8 133.9L688.9 134.9L688.9 135.9L688.9 136.9L688.7 137.9L688.5 138.9L688.3 139.9L688.0 140.9L687.7 141.9L687.3 142.9L686.8 143.9L686.3 144.9L685.7 145.9L685.1 146.9L684.6 147.9L684.1 148.9L683.5 149.9L683.1 150.9L682.8 151.9L682.7 152.9L682.6 153.9L682.6 154.9L682.6 155.9L682.6 156.9L682.7 157.9L682.7 158.9L682.8 159.9L682.9 160.9L683.1 161.9L683.3 162.9L683.5 163.9L683.7 164.9L684.0 165.9L684.3 166.9L684.6 167.9L684.7 168.3L682.00 168.30Z" fill="#FF7F0E" fill-opacity="0.8"/>
<g fill="#1F77B4" fill-opacity="0.62" stroke="#1F77B4" stroke-opacity="0.88" stroke-width="0.85">
<circle cx="575.7" cy="69.9" r="2.05"/><circle cx="566.0" cy="77.1" r="2.05"/><circle cx="570.6" cy="79.0" r="2.05"/><circle cx="564.6" cy="83.6" r="2.05"/><circle cx="571.0" cy="91.5" r="2.05"/><circle cx="577.2" cy="91.5" r="2.05"/><circle cx="582.3" cy="94.0" r="2.05"/><circle cx="570.3" cy="95.3" r="2.05"/><circle cx="575.3" cy="100.0" r="2.05"/><circle cx="572.1" cy="101.5" r="2.05"/><circle cx="579.1" cy="102.4" r="2.05"/><circle cx="570.6" cy="103.9" r="2.05"/><circle cx="571.6" cy="107.1" r="2.05"/><circle cx="572.1" cy="109.4" r="2.05"/><circle cx="564.0" cy="115.8" r="2.05"/><circle cx="568.2" cy="115.8" r="2.05"/><circle cx="560.9" cy="120.1" r="2.05"/><circle cx="568.2" cy="125.1" r="2.05"/><circle cx="573.5" cy="130.8" r="2.05"/><circle cx="577.2" cy="131.3" r="2.05"/><circle cx="580.4" cy="130.8" r="2.05"/><circle cx="574.4" cy="134.1" r="2.05"/><circle cx="563.5" cy="136.0" r="2.05"/><circle cx="566.9" cy="135.1" r="2.05"/><circle cx="565.0" cy="138.8" r="2.05"/><circle cx="566.9" cy="141.1" r="2.05"/><circle cx="563.5" cy="143.5" r="2.05"/><circle cx="571.6" cy="143.0" r="2.05"/><circle cx="578.1" cy="143.5" r="2.05"/><circle cx="568.8" cy="147.3" r="2.05"/><circle cx="580.0" cy="146.3" r="2.05"/><circle cx="571.6" cy="149.5" r="2.05"/><circle cx="575.3" cy="149.5" r="2.05"/><circle cx="568.8" cy="149.0" r="2.05"/><circle cx="572.5" cy="150.5" r="2.05"/><circle cx="575.3" cy="151.0" r="2.05"/><circle cx="560.3" cy="155.0" r="2.05"/><circle cx="560.7" cy="159.3" r="2.05"/><circle cx="569.7" cy="155.0" r="2.05"/><circle cx="574.4" cy="157.4" r="2.05"/><circle cx="578.1" cy="156.9" r="2.05"/><circle cx="579.6" cy="159.3" r="2.05"/><circle cx="579.1" cy="161.8" r="2.05"/><circle cx="578.1" cy="163.6" r="2.05"/><circle cx="576.3" cy="165.5" r="2.05"/><circle cx="561.3" cy="173.8" r="2.05"/><circle cx="579.6" cy="173.0" r="2.05"/><circle cx="578.1" cy="177.5" r="2.05"/><circle cx="571.6" cy="179.0" r="2.05"/><circle cx="565.0" cy="183.7" r="2.05"/><circle cx="576.3" cy="181.8" r="2.05"/><circle cx="577.6" cy="184.6" r="2.05"/><circle cx="581.0" cy="190.7" r="2.05"/><circle cx="564.2" cy="199.5" r="2.05"/><circle cx="568.0" cy="199.5" r="2.05"/><circle cx="566.1" cy="149.0" r="2.05"/><circle cx="573.3" cy="149.3" r="2.05"/><circle cx="566.3" cy="162.2" r="2.05"/><circle cx="565.3" cy="150.9" r="2.05"/><circle cx="576.4" cy="154.7" r="2.05"/><circle cx="577.5" cy="143.7" r="2.05"/>
</g>
<g fill="#FF7F0E" fill-opacity="0.62" stroke="#FF7F0E" stroke-opacity="0.88" stroke-width="0.85">
<circle cx="646.5" cy="28.8" r="2.05"/><circle cx="661.0" cy="31.4" r="2.05"/><circle cx="657.2" cy="46.2" r="2.05"/><circle cx="666.3" cy="55.0" r="2.05"/><circle cx="655.1" cy="72.8" r="2.05"/><circle cx="657.0" cy="73.3" r="2.05"/><circle cx="662.2" cy="72.8" r="2.05"/><circle cx="664.1" cy="75.2" r="2.05"/><circle cx="657.3" cy="76.5" r="2.05"/><circle cx="647.0" cy="79.5" r="2.05"/><circle cx="655.1" cy="81.2" r="2.05"/><circle cx="648.9" cy="84.0" r="2.05"/><circle cx="654.1" cy="84.6" r="2.05"/><circle cx="661.1" cy="85.1" r="2.05"/><circle cx="667.8" cy="84.6" r="2.05"/><circle cx="649.4" cy="88.3" r="2.05"/><circle cx="654.7" cy="87.4" r="2.05"/><circle cx="645.7" cy="92.5" r="2.05"/><circle cx="652.3" cy="92.1" r="2.05"/><circle cx="657.0" cy="92.1" r="2.05"/><circle cx="658.8" cy="94.0" r="2.05"/><circle cx="649.4" cy="95.8" r="2.05"/><circle cx="654.1" cy="95.3" r="2.05"/><circle cx="657.9" cy="98.3" r="2.05"/><circle cx="659.8" cy="106.2" r="2.05"/><circle cx="651.7" cy="113.0" r="2.05"/><circle cx="665.0" cy="112.4" r="2.05"/><circle cx="646.6" cy="119.0" r="2.05"/><circle cx="645.7" cy="133.8" r="2.05"/><circle cx="657.5" cy="136.0" r="2.05"/><circle cx="663.8" cy="142.0" r="2.05"/><circle cx="662.0" cy="168.8" r="2.05"/><circle cx="654.7" cy="95.0" r="2.05"/><circle cx="660.8" cy="87.2" r="2.05"/><circle cx="661.4" cy="83.9" r="2.05"/>
</g>
<path d="M588.75 69.80V116.60M588.75 160.40V199.50" stroke="#000" stroke-width="1.35" fill="none"/>
<rect x="584.30" y="116.60" width="8.80" height="43.80" fill="#fff"/>
<rect x="584.30" y="116.60" width="8.80" height="43.80" fill="#1F77B4" fill-opacity="0.6" stroke="#000" stroke-width="1.35"/>
<path d="M584.30 143.90H593.10" stroke="#000" stroke-width="2.4"/>
<path d="M673.80 46.10V75.20M673.80 97.30V118.40" stroke="#000" stroke-width="1.35" fill="none"/>
<rect x="669.40" y="75.20" width="8.80" height="22.10" fill="#fff"/>
<rect x="669.40" y="75.20" width="8.80" height="22.10" fill="#FF7F0E" fill-opacity="0.6" stroke="#000" stroke-width="1.35"/>
<path d="M669.40 88.90H678.20" stroke="#000" stroke-width="2.4"/>
<path d="M585.00 32.40H675.90" stroke="#000" stroke-width="1.5"/>
<text x="631.30" y="30.25" font-family="'DejaVu Sans', sans-serif" font-weight="bold" font-size="11.8" letter-spacing="1.15" text-anchor="middle" fill="#000" stroke="#000" stroke-width="0.4">****</text>
<path d="M528.30 20.3V208.80M527.70 208.2H716.10" stroke="#000" stroke-width="1.25" fill="none"/>
<path d="M523.40 63.78H528.30M523.40 108.83H528.30M523.40 153.88H528.30M523.40 198.93H528.30M571.65 208.2V212.90M656.60 208.2V212.90" stroke="#000" stroke-width="1.2" fill="none"/>
<text x="519.70" y="66.63" font-size="8.6" text-anchor="end" fill="#000">2.5</text>
<text x="519.70" y="111.68" font-size="8.6" text-anchor="end" fill="#000">0.0</text>
<text x="519.70" y="156.73" font-size="8.6" text-anchor="end" fill="#000">2.5</text>
<text x="519.70" y="201.78" font-size="8.6" text-anchor="end" fill="#000">5.0</text>
<text x="571.65" y="224.3" font-size="8.6" text-anchor="middle" fill="#000">Uninfected</text>
<text x="656.60" y="224.3" font-size="8.6" text-anchor="middle" fill="#000">Infection</text>
<text x="622.30" y="236.7" font-size="10.2" text-anchor="middle" fill="#000">Group</text>
<text transform="translate(495.40 114.4) rotate(-90)" font-size="10.2" text-anchor="middle" fill="#000">Risk</text>
<text x="487.50" y="13.9" font-size="12.1" fill="#000">C</text>
<rect x="560.75" y="4.4" width="12.2" height="12.2" fill="#1F77B4" fill-opacity="0.8"/>
<text x="578.05" y="14.05" font-size="10.2" fill="#000">Uninfected</text>
<rect x="632.00" y="4.4" width="12.2" height="12.2" fill="#FF7F0E" fill-opacity="0.8"/>
<text x="649.40" y="14.05" font-size="10.2" fill="#000">Infection</text>
</g>
</svg>
</body></html>
